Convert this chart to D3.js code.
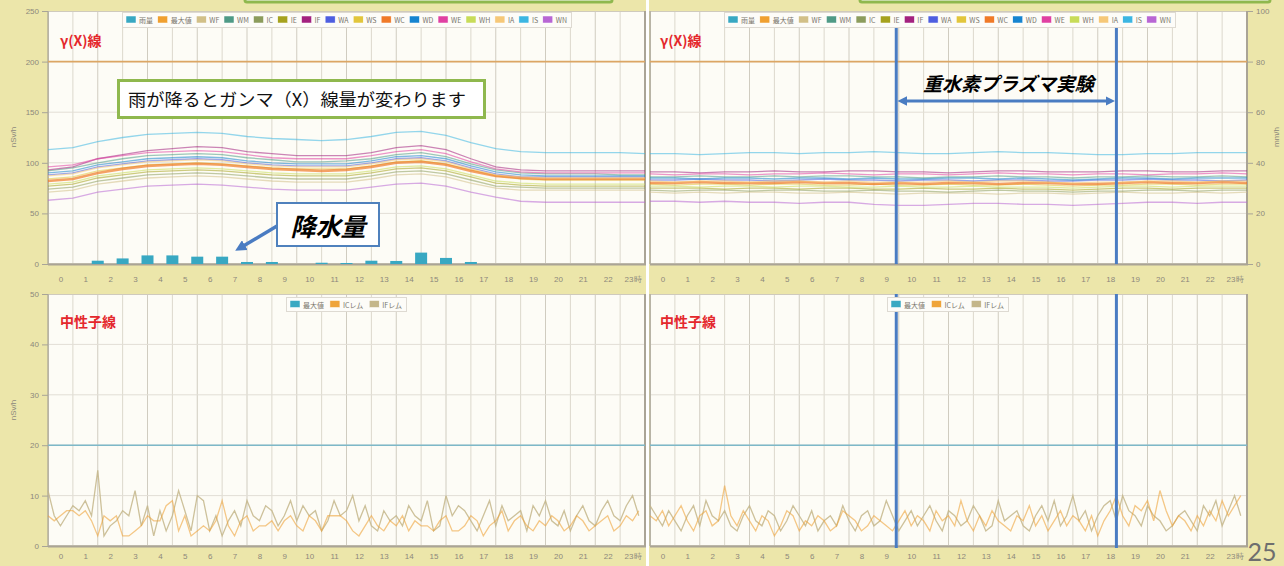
<!DOCTYPE html>
<html><head><meta charset="utf-8">
<script src="https://cdn.jsdelivr.net/npm/d3@7"></script>
<style>
body{margin:0;background:#ece6aa;}
svg{display:block;font-family:"Noto Sans CJK JP","Noto Sans",sans-serif;}
</style></head><body>
<svg id="chart" width="1284" height="566"></svg>
<script>
// ---- axis labels ----
const hourLabels = ["0","1","2","3","4","5","6","7","8","9","10","11","12","13","14","15","16","17","18","19","20","21","22","23時"];
const gammaTicks = [0, 50, 100, 150, 200, 250];
const rainTicks = [0, 20, 40, 60, 80, 100];
const neutronTicks = [0, 10, 20, 30, 40, 50];

// ---- stations (gamma) ----
const stations = ["WF","WM","IC","IE","IF","WA","WS","WC","WD","WE","WH","IA","IS","WN"];
const stationColors = ["#d2c088","#4f9a86","#8c9c5c","#a6a21e","#a3217f","#4e5ee0","#e2c63c","#f07a28","#1684d0","#e040a2","#c8dc58","#f6c878","#3cb6e2","#b866d4"];

// hourly gamma dose rate (nSv/h), hours 0..24 — day 1 (rain)
const day1WF = [71,73,79,82,85,86,87,86,84,82,81,81,81,84,88,89,86,80,75,73,73,73,73,73,73];
const day1WM = [92,95,100,104,107,108,109,108,105,103,101,101,102,104,108,110,106,99,93,90,89,89,89,88,88];
const day1IC = [74,76,82,85,88,89,90,89,87,85,84,84,84,87,91,92,89,83,77,76,75,75,75,75,75];
const day1IE = [77,79,85,88,91,92,93,92,90,88,87,87,87,90,94,95,92,86,80,78,77,77,77,77,77];
const day1IF = [93,96,104,108,112,114,116,115,111,109,107,107,107,110,115,117,113,104,96,93,92,92,92,92,92];
const day1WA = [88,90,96,99,102,103,104,103,100,98,97,97,97,100,104,105,102,95,89,86,86,86,86,86,86];
const day1WS = [84,86,92,95,98,99,100,99,97,95,94,94,94,97,101,102,99,93,87,84,83,83,83,83,83];
const day1WC = [82,84,90,94,97,98,99,98,96,94,93,92,93,96,100,101,98,92,87,85,84,84,84,84,84];
const day1WD = [90,92,98,101,104,105,106,105,102,100,99,99,99,102,106,107,104,97,91,88,87,87,87,87,87];
const day1WE = [96,98,104,107,110,111,112,111,108,105,104,104,104,107,111,113,109,101,94,91,90,90,90,90,90];
const day1WH = [79,81,87,90,93,94,95,94,92,90,89,89,89,92,96,97,94,88,82,80,79,79,79,79,79];
const day1IA = [87,89,95,98,101,102,103,102,99,97,96,96,96,99,103,104,101,94,88,86,85,85,85,85,85];
const day1IS = [113,115,121,125,128,129,130,129,126,124,123,122,123,126,130,131,127,120,114,111,110,110,110,110,109];
const day1WN = [63,65,71,74,77,78,79,78,76,74,73,73,73,76,79,80,77,71,66,62,61,61,61,61,61];

// hourly gamma dose rate (nSv/h), hours 0..24 — day 2 (experiment)
const day2WF = [71,70,71,70,71,71,70,70,71,70,69,70,70,70,69,70,70,69,70,71,70,70,71,70,71];
const day2WM = [86,86,87,86,86,87,86,87,87,86,86,85,86,86,87,86,86,85,86,86,87,86,86,87,86];
const day2IC = [73,72,73,73,72,73,73,72,72,73,72,72,71,72,73,72,72,71,72,72,73,73,72,73,73];
const day2IE = [75,75,75,74,75,75,74,75,75,74,74,75,74,74,75,74,74,73,74,75,75,74,75,75,75];
const day2IF = [91,91,90,91,91,92,91,91,92,92,91,91,90,91,92,92,91,91,91,92,92,91,91,92,92];
const day2WA = [83,83,84,83,83,82,83,84,83,83,82,83,83,82,83,83,82,82,83,83,84,83,83,82,83];
const day2WS = [79,78,79,79,78,79,79,78,78,79,78,78,79,78,78,79,78,77,78,78,79,79,78,79,79];
const day2WC = [80,80,81,80,80,80,81,80,80,79,80,79,80,80,79,80,80,79,79,80,81,80,80,81,80];
const day2WD = [85,85,84,85,85,84,85,85,84,85,84,84,85,85,84,85,84,83,84,85,85,84,85,85,85];
const day2WE = [89,88,89,89,88,89,89,90,89,88,89,89,88,89,90,89,89,88,89,89,88,89,89,90,89];
const day2WH = [77,77,76,77,77,76,77,77,76,76,77,76,76,77,76,76,76,75,76,77,77,76,77,77,77];
const day2IA = [82,81,82,82,81,82,82,81,82,81,81,81,82,81,82,82,81,80,81,81,82,82,81,82,82];
const day2IS = [109,109,108,109,110,110,109,110,110,111,110,109,109,110,111,110,110,109,108,108,109,109,110,110,110];
const day2WN = [62,62,61,62,61,61,60,61,61,59,58,58,59,60,60,59,59,58,59,60,61,61,60,61,61];

// hourly rainfall (mm/h), day 1, at hours 0..23
const rainDay1 = [0,0,1.3,2.2,3.4,3.4,2.9,2.9,0.8,0.8,0,0.5,0.4,1.3,1.2,4.5,2.4,0.8,0,0,0,0,0,0];

// limit lines
const gammaMax = 200;
const neutronMax = 20;

// neutron dose rate (nSv/h), 15-minute samples
const neutronDay1IC = [6,5,6,7,7,6,7,5,2,6,5,6,2,2,3,4,6,5,5,8,9,3,6,2,3,4,3,5,9,4,2,5,6,3,4,4,5,3,5,6,4,3,6,5,3,6,6,6,5,3,2,4,6,4,3,5,4,6,3,5,4,4,3,5,6,3,3,4,6,5,2,4,5,7,3,5,6,4,3,5,4,6,5,3,4,6,5,3,4,5,6,3,4,6,5,7];
const neutronDay1IF = [11,6,4,6,8,7,9,6,15,2,4,5,7,6,11,4,8,2,7,3,6,11,7,3,10,9,3,6,2,5,7,4,9,6,5,8,7,4,6,9,5,8,6,7,3,5,9,6,7,10,5,8,4,3,7,5,6,4,8,6,5,9,3,4,10,6,8,7,5,3,6,9,4,8,5,6,7,3,8,6,9,5,4,7,3,6,8,5,4,7,9,6,5,8,10,6];
const neutronDay2IC = [6,5,7,4,6,8,5,3,6,7,4,5,12,6,4,7,5,3,6,5,2,4,7,6,3,5,4,6,5,3,4,7,6,5,3,4,6,5,4,3,5,7,4,6,5,3,7,5,6,4,9,5,3,6,4,7,5,4,3,6,5,8,4,6,3,5,7,4,6,5,3,6,2,5,7,10,6,4,8,7,9,5,11,7,4,6,5,3,6,4,7,5,9,6,8,10];
const neutronDay2IF = [8,6,4,7,5,3,6,8,4,9,6,5,7,4,3,6,8,5,4,7,6,3,5,8,6,4,7,3,5,6,4,8,5,3,6,7,4,5,9,6,3,5,7,4,6,8,5,3,7,6,4,5,8,6,3,4,9,5,6,7,4,3,6,8,5,9,4,6,10,5,7,3,6,8,9,5,10,7,6,4,8,6,5,3,4,6,7,5,3,8,6,9,4,7,10,6];
const neutronNames = ["最大値","ICレム","IFレム"];
const neutronColors = ["#3aa9c2","#efa43a","#c4b68a"];

const day1Gamma = [day1WF,day1WM,day1IC,day1IE,day1IF,day1WA,day1WS,day1WC,day1WD,day1WE,day1WH,day1IA,day1IS,day1WN];
const day2Gamma = [day2WF,day2WM,day2IC,day2IE,day2IF,day2WA,day2WS,day2WC,day2WD,day2WE,day2WH,day2IA,day2IS,day2WN];

// ---- layout ----
const svg = d3.select("#chart");
const PW = 597;
const topY = [264, 11], botY = [546, 294];
const leftX = 48, rightX = 650;

svg.append("rect").attr("width",1284).attr("height",566).attr("fill","#ece6aa");

// header boxes (mostly outside the view)
[[245,367],[860,410]].forEach(([x,w])=>{
  svg.append("rect").attr("x",x).attr("y",-30).attr("width",w).attr("height",32)
    .attr("rx",2).attr("fill","#fff").attr("stroke","#8fb84e").attr("stroke-width",3);
});

function makePanel(x0, yr, domainMax, ticks, showLeftAxis, labelPad) {
  const g = svg.append("g");
  const x = d3.scaleLinear().domain([0,24]).range([x0, x0+PW]);
  const y = d3.scaleLinear().domain([0,domainMax]).range(yr);
  // plot background
  g.append("rect").attr("x",x0).attr("y",yr[1]).attr("width",PW).attr("height",yr[0]-yr[1])
    .attr("fill","#fdfcf6");
  // vertical grid
  g.selectAll(".vg").data(d3.range(1,24)).join("line")
    .attr("x1",d=>x(d)).attr("x2",d=>x(d)).attr("y1",yr[1]).attr("y2",yr[0])
    .attr("stroke",(d)=> d%2? "#dcd8cc":"#d0ccc0").attr("stroke-width",1);
  // horizontal grid
  g.selectAll(".hg").data(ticks.slice(1,-1)).join("line")
    .attr("x1",x0).attr("x2",x0+PW).attr("y1",d=>y(d)).attr("y2",d=>y(d))
    .attr("stroke","#e2ded6").attr("stroke-width",1);
  // frame
  g.append("rect").attr("x",x0+0.5).attr("y",yr[1]+0.5).attr("width",PW-1).attr("height",yr[0]-yr[1]-1)
    .attr("fill","none").attr("stroke","#cfcabd");
  g.append("path").attr("d",`M${x0},${yr[0]+0.5}H${x0+PW}V${yr[1]}`)
    .attr("fill","none").attr("stroke","#aaa496").attr("stroke-width",2);
  g.append("line").attr("x1",x0).attr("x2",x0).attr("y1",yr[1]).attr("y2",yr[0])
    .attr("stroke","#a8a498").attr("stroke-width",1.2);
  // x labels (centered in each hour)
  g.append("g").attr("transform",`translate(0,${yr[0]})`)
    .call(d3.axisBottom(x).tickValues(d3.range(24).map(h=>h+0.5)).tickSize(0).tickPadding(labelPad)
      .tickFormat((d,i)=>hourLabels[i]))
    .call(a=>a.select(".domain").remove())
    .call(a=>a.selectAll("text").attr("fill","#8c887c").attr("font-size",8).attr("font-family","Liberation Sans, sans-serif"));
  if (showLeftAxis) {
    g.append("g").attr("transform",`translate(${x0},0)`)
      .call(d3.axisLeft(y).tickValues(ticks).tickSize(6).tickPadding(3))
      .call(a=>a.select(".domain").remove())
      .call(a=>a.selectAll("line").attr("stroke","#a8a498"))
      .call(a=>a.selectAll("text").attr("fill","#8c887c").attr("font-size",8).attr("font-family","Liberation Sans, sans-serif"));
  }
  return {g, x, y};
}

const line = (x,y,step) => d3.line().x((d,i)=>x(i*step)).y(d=>y(d));

// gamma panels
const TL = makePanel(leftX, topY, 250, gammaTicks, true, 12);
const TR = makePanel(rightX, topY, 250, gammaTicks, false, 12);

[[TL,day1Gamma],[TR,day2Gamma]].forEach(([p,data])=>{
  p.g.append("line").attr("x1",p.x(0)).attr("x2",p.x(24)).attr("y1",p.y(gammaMax)).attr("y2",p.y(gammaMax))
    .attr("stroke","#dca664").attr("stroke-width",1.6);
  data.forEach((s,i)=>{
    p.g.append("path").datum(s).attr("d",line(p.x,p.y,1))
      .attr("fill","none").attr("stroke",stationColors[i])
      .attr("stroke-width", stations[i]==="WC"?2.6:1.3)
      .attr("stroke-opacity", stations[i]==="WC"?0.7:0.55);
  });
});

// rainfall bars (right axis, mm/h)
const rainY = d3.scaleLinear().domain([0,100]).range(topY);
TL.g.selectAll(".rain").data(rainDay1).join("rect")
  .attr("x",(d,i)=>TL.x(i)-6).attr("width",12)
  .attr("y",d=>rainY(d)).attr("height",d=>rainY(0)-rainY(d))
  .attr("fill","#38a8c2");
TR.g.append("g").attr("transform",`translate(${rightX+PW},0)`)
  .call(d3.axisRight(rainY).tickValues(rainTicks).tickSize(6).tickPadding(3))
  .call(a=>a.select(".domain").remove())
  .call(a=>a.selectAll("line").attr("stroke","#a8a498"))
  .call(a=>a.selectAll("text").attr("fill","#8c887c").attr("font-size",8).attr("font-family","Liberation Sans, sans-serif"));

// neutron panels
const BL = makePanel(leftX, botY, 50, neutronTicks, true, 7);
const BR = makePanel(rightX, botY, 50, neutronTicks, false, 7);
[[BL,neutronDay1IC,neutronDay1IF],[BR,neutronDay2IC,neutronDay2IF]].forEach(([p,ic,iff])=>{
  p.g.append("line").attr("x1",p.x(0)).attr("x2",p.x(24)).attr("y1",p.y(neutronMax)).attr("y2",p.y(neutronMax))
    .attr("stroke","#7db8c8").attr("stroke-width",1.6);
  p.g.append("path").datum(iff).attr("d",line(p.x,p.y,0.25))
    .attr("fill","none").attr("stroke",neutronColors[2]).attr("stroke-width",1.3).attr("stroke-opacity",0.85);
  p.g.append("path").datum(ic).attr("d",line(p.x,p.y,0.25))
    .attr("fill","none").attr("stroke",neutronColors[1]).attr("stroke-width",1.3).attr("stroke-opacity",0.6);
});

// separator between the two days
svg.append("rect").attr("x",646).attr("y",0).attr("width",3).attr("height",566).attr("fill","#fff");

// experiment window markers
const expStart = 9.9, expEnd = 18.75;
[expStart, expEnd].forEach(t=>{
  [[27,topY[0]],[botY[1],botY[0]+2]].forEach(([a,b])=>{
    svg.append("line").attr("x1",TR.x(t)).attr("x2",TR.x(t)).attr("y1",a).attr("y2",b)
      .attr("stroke","#4a7cc2").attr("stroke-width",3);
  });
});

// legends
function legend(x, y, width, h, names, colors, fs) {
  const g = svg.append("g");
  g.append("rect").attr("x",x+0.5).attr("y",y+0.5).attr("width",width).attr("height",h)
    .attr("fill","#fdfcf8").attr("stroke","#dedad2");
  const texts = names.map(n=>g.append("text").text(n).attr("font-size",fs).attr("fill","#7a766c")
    .attr("dominant-baseline","central").attr("y",y+h/2+0.5));
  const widths = texts.map(t=>t.node().getComputedTextLength());
  const sw = 10, pad = 4, gapT = 3;
  const gap = (width - 2*pad - names.length*(sw+gapT) - d3.sum(widths)) / (names.length-1);
  let cx = x + pad;
  names.forEach((n,i)=>{
    g.append("rect").attr("x",cx).attr("y",y+h/2-3.5).attr("width",sw).attr("height",7)
      .attr("fill",colors[i]).attr("stroke","#fff").attr("stroke-width",0.5);
    texts[i].attr("x",cx+sw+gapT);
    cx += sw + gapT + widths[i] + gap;
  });
}
const gammaLegendNames = ["雨量","最大値"].concat(stations);
const gammaLegendColors = ["#38a8c2","#f0a030"].concat(stationColors);
legend(122, 12, 449, 15, gammaLegendNames, gammaLegendColors, 7);
legend(724, 12, 451, 15, gammaLegendNames, gammaLegendColors, 7);
legend(286, 297, 120, 14, neutronNames, neutronColors, 7);
legend(887, 297, 121, 14, neutronNames, neutronColors, 7);

// panel titles
[[60,46,"γ(X)線"],[660,46,"γ(X)線"],[60,327,"中性子線"],[660,327,"中性子線"]].forEach(([x,y,t])=>{
  svg.append("text").attr("x",x).attr("y",y).text(t).attr("fill","#e4282c")
    .attr("font-size",14).attr("font-weight","bold");
});

// axis titles
[[13,137,"nSv/h"],[13,410,"nSv/h"],[1276,137,"mm/h"]].forEach(([x,y,t])=>{
  svg.append("text").attr("transform",`translate(${x},${y}) rotate(-90)`).attr("text-anchor","middle")
    .attr("dominant-baseline","central").text(t).attr("fill","#8c887c").attr("font-size",8)
    .attr("font-family","Liberation Sans, sans-serif");
});

// callouts
svg.append("rect").attr("x",118.5).attr("y",80.5).attr("width",366).attr("height",37)
  .attr("fill","#fff").attr("stroke","#8fb84e").attr("stroke-width",3);
svg.append("text").attr("x",128).attr("y",106).text("雨が降るとガンマ（X）線量が変わります")
  .attr("font-size",17.5).attr("fill","#111").attr("textLength",338).attr("lengthAdjust","spacingAndGlyphs");

const defs = svg.append("defs");
defs.append("marker").attr("id","head").attr("viewBox","0 0 10 10").attr("refX",5).attr("refY",5)
  .attr("markerWidth",3.2).attr("markerHeight",3.2).attr("orient","auto-start-reverse")
  .append("path").attr("d","M0,0L10,5L0,10Z").attr("fill","#4a7cc2");

svg.append("line").attr("x1",277).attr("y1",226).attr("x2",240).attr("y2",248)
  .attr("stroke","#4a7cc2").attr("stroke-width",3.5).attr("marker-end","url(#head)");
svg.append("rect").attr("x",277).attr("y",203).attr("width",102).attr("height",43)
  .attr("fill","#fff").attr("stroke","#4f81bd").attr("stroke-width",2);
svg.append("text").attr("x",328).attr("y",236).attr("text-anchor","middle").text("降水量")
  .attr("font-size",25).attr("font-weight","bold").attr("font-style","italic").attr("fill","#000");

svg.append("line").attr("x1",TR.x(expStart)+6).attr("x2",TR.x(expEnd)-6).attr("y1",101).attr("y2",101)
  .attr("stroke","#4a7cc2").attr("stroke-width",3)
  .attr("marker-start","url(#head)").attr("marker-end","url(#head)");
svg.append("text").attr("x",(TR.x(expStart)+TR.x(expEnd))/2+2).attr("y",91).attr("text-anchor","middle")
  .text("重水素プラズマ実験").attr("font-size",19).attr("font-weight","bold").attr("font-style","italic").attr("fill","#000");

// page number
svg.append("text").attr("x",1262).attr("y",561).attr("text-anchor","middle").text("25")
  .attr("font-size",25).attr("fill","#6e6e6e").attr("font-family","Lato, sans-serif");
</script>
</body></html>
